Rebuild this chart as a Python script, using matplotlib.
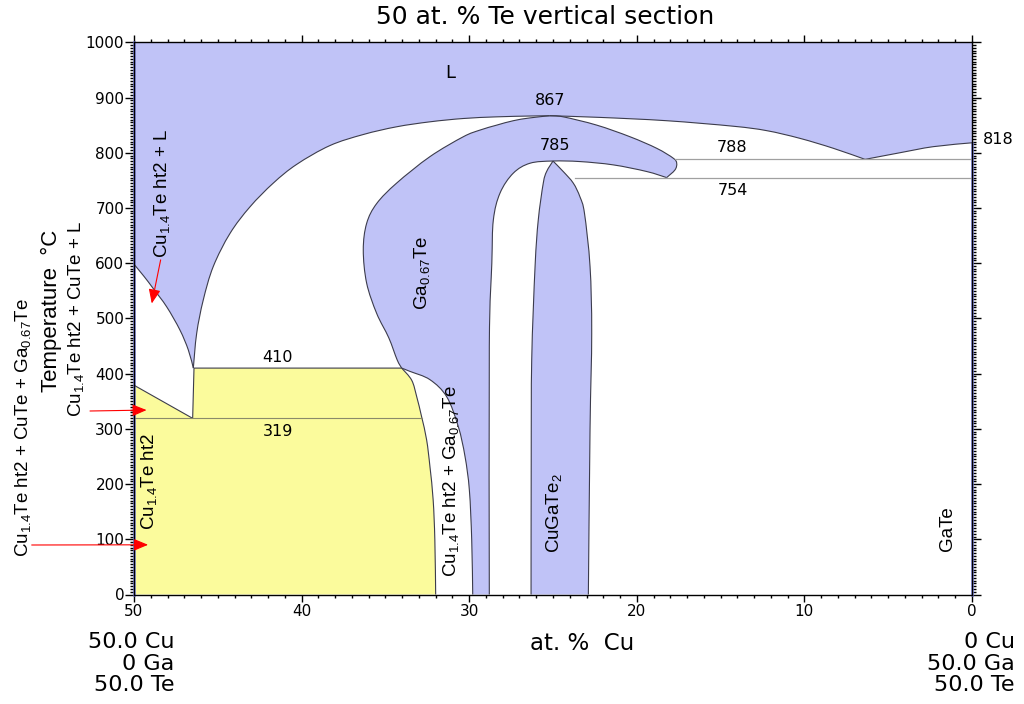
import matplotlib
matplotlib.use("Agg")
import matplotlib.pyplot as plt
from matplotlib.path import Path
from matplotlib.patches import PathPatch
from matplotlib.ticker import MultipleLocator

plt.rcParams["font.family"] = ["DejaVu Sans"]
plt.rcParams["mathtext.fontset"] = "custom"
plt.rcParams["mathtext.rm"] = "Liberation Sans"
plt.rcParams["mathtext.default"] = "regular"

# ---- invariant temperatures (°C) ----
t_liq_max = 867
t_dome_top = 785
t_eut_ga = 788
t_peri_ga = 754
t_gate_melt = 818
t_inv_upper = 410
t_inv_lower = 319
t_cu14_edge = 379

# ---- phase boundaries: composition (at.% Cu) and temperature (°C) ----
# liquidus from the Cu-rich edge down to the 410 °C point
liq_cu_x = [50.0, 49.4, 48.85, 48.05, 47.26, 46.76, 46.46]
liq_cu_t = [598, 576, 554, 521, 479, 443, t_inv_upper]

# liquidus rising from the 410 °C point to the congruent maximum
liq_mid_x = [46.46, 46.26, 45.87, 45.27, 44.27, 43.08, 41.69, 40.29, 38.31,
             36.32, 34.33, 32.34, 30.35, 28.36, 26.37, 25.2]
liq_mid_t = [t_inv_upper, 473, 533, 594, 654, 702, 745, 779, 813,
             833, 847, 856, 862, 865, 866.5, t_liq_max]

# liquidus from the maximum down to the eutectic, then up to GaTe
liq_ga_x = [25.2, 22.2, 18.22, 14.24, 12.25, 10.26, 8.27, 6.38]
liq_ga_t = [t_liq_max, 864, 858, 848, 840, 826, 808, t_eut_ga]
liq_gate_x = [6.38, 4.3, 2.31, 0.0]
liq_gate_t = [t_eut_ga, 800, 811, t_gate_melt]

# Ga0.67Te field, Cu-rich side below 410 °C
ga_low_x = [29.79, 29.85, 29.99, 30.25, 30.65, 31.34, 32.34, 33.53, 34.03]
ga_low_t = [0, 99, 189, 250, 304, 358, 389, 404, t_inv_upper]

# Ga0.67Te field, Cu-rich side above 410 °C
ga_up_x = [34.03, 34.3, 34.8, 35.52, 36.12, 36.32, 36.12, 35.52, 34.33,
           32.34, 30.35, 29.36, 28.36, 27.37, 26.4, 25.2]
ga_up_t = [t_inv_upper, 425, 465, 509, 564, 624, 672, 708, 745,
           793, 829, 841, 850, 858, 863, t_liq_max]

# upper edge of the Ga0.67Te arm reaching toward GaTe
arm_up_x = [25.2, 24.39, 22.39, 20.41, 18.81, 17.82, 17.62, 17.72, 18.22]
arm_up_t = [t_liq_max, 865, 850, 829, 808, 790, 781, 769, 755]

# lower edge of the arm and Ga-rich side of the Ga0.67Te field
arm_low_x = [18.22, 19.41, 21.4, 23.39, 25.0, 26.37, 27.37, 28.16, 28.56, 28.65, 28.8, 28.8]
arm_low_t = [755, 766, 778, 784, t_dome_top, 781, 763, 727, 678, 600, 450, 0]

# CuGaTe2 single-phase dome
dome_left_x = [26.31, 26.3, 26.27, 26.07, 25.88, 25.58, 25.38, 25.0]
dome_left_t = [0, 240, 425, 594, 678, 745, 766, t_dome_top]
dome_right_x = [25.0, 24.39, 23.79, 23.39, 23.12, 22.79, 22.69, 22.79, 22.89]
dome_right_t = [t_dome_top, 766, 745, 720, 690, 594, 473, 300, 0]

# Cu1.4Te ht2 field, Ga-rich boundary
cu14_right_x = [34.03, 33.43, 33.13, 32.84, 32.54, 32.34, 32.15, 32.05, 32.0]
cu14_right_t = [t_inv_upper, 388, 358, 322, 280, 231, 171, 99, 0]
cu14_corner_x = 46.5

# horizontal invariant lines (start composition, end composition)
inv_lower_x = [50.0, 32.82]
inv_ga_eut_x = [17.7, 0.0]
inv_ga_peri_x = [23.7, 0.0]

BLUE = "#C0C3F7"
YELLOW = "#FBFB9C"
EDGE = "#3c3c4c"
GRAY = "#a0a0a0"
BLUE_EDGE = "#7F86E8"
LAB_FONT = ["Liberation Sans", "DejaVu Sans"]


def curve(xs, ts):
    """Smooth cubic segments passing through every boundary point."""
    p = list(zip(xs, ts))
    n = len(p)
    verts, codes = [], []
    for i in range(n - 1):
        p0 = p[i - 1] if i > 0 else p[i]
        p1, p2 = p[i], p[i + 1]
        p3 = p[i + 2] if i + 2 < n else p[i + 1]
        c1 = (p1[0] + (p2[0] - p0[0]) / 6, p1[1] + (p2[1] - p0[1]) / 6)
        c2 = (p2[0] - (p3[0] - p1[0]) / 6, p2[1] - (p3[1] - p1[1]) / 6)
        verts += [c1, c2, p2]
        codes += [Path.CURVE4] * 3
    return verts, codes


def build_path(pieces, closed=False):
    verts = [(pieces[0][0][0], pieces[0][1][0])]
    codes = [Path.MOVETO]
    for xs, ts in pieces:
        v, c = curve(xs, ts)
        verts += v
        codes += c
    if closed:
        verts.append(verts[0])
        codes.append(Path.CLOSEPOLY)
    return Path(verts, codes)


W, H = 1024, 704
fig = plt.figure(figsize=(W / 100, H / 100), dpi=100)
ax = fig.add_axes([134 / W, 1 - 594.5 / H, (972 - 134) / W, (594.5 - 42.3) / H])
ax.set_xlim(50, 0)
ax.set_ylim(0, 1000)

# ---- filled fields ----
liq_field = build_path([([50.0, 50.0], [1000, liq_cu_t[0]]),
                        (liq_cu_x, liq_cu_t), (liq_mid_x, liq_mid_t),
                        (liq_ga_x, liq_ga_t), (liq_gate_x, liq_gate_t),
                        ([0.0, 0.0], [t_gate_melt, 1000])], closed=True)
ga_field = build_path([(ga_low_x, ga_low_t), (ga_up_x, ga_up_t),
                       (arm_up_x, arm_up_t), (arm_low_x, arm_low_t),
                       ([arm_low_x[-1], ga_low_x[0]], [0, 0])], closed=True)
dome_field = build_path([(dome_left_x, dome_left_t), (dome_right_x, dome_right_t),
                         ([dome_right_x[-1], dome_left_x[0]], [0, 0])], closed=True)
cu14_field = build_path([([50.0, 50.0], [0, t_cu14_edge]),
                         ([50.0, cu14_corner_x], [t_cu14_edge, t_inv_lower]),
                         ([cu14_corner_x, 46.42], [t_inv_lower, t_inv_upper]),
                         ([46.42, cu14_right_x[0]], [t_inv_upper, t_inv_upper]),
                         (cu14_right_x, cu14_right_t),
                         ([cu14_right_x[-1], 50.0], [0, 0])], closed=True)

for path, col in [(liq_field, BLUE), (ga_field, BLUE), (dome_field, BLUE),
                  (cu14_field, YELLOW)]:
    ax.add_patch(PathPatch(path, facecolor=col, edgecolor="none", zorder=1))

# ---- boundary lines ----
boundaries = [
    (liq_cu_x, liq_cu_t), (liq_mid_x, liq_mid_t), (liq_ga_x, liq_ga_t),
    (liq_gate_x, liq_gate_t), (ga_low_x, ga_low_t), (ga_up_x, ga_up_t),
    (arm_up_x, arm_up_t), (arm_low_x, arm_low_t),
    (dome_left_x, dome_left_t), (dome_right_x, dome_right_t),
    (cu14_right_x, cu14_right_t),
    ([50.0, cu14_corner_x], [t_cu14_edge, t_inv_lower]),
    ([cu14_corner_x, 46.42], [t_inv_lower, t_inv_upper]),
    ([46.42, cu14_right_x[0]], [t_inv_upper, t_inv_upper]),
]
for xs, ts in boundaries:
    ax.add_patch(PathPatch(build_path([(xs, ts)]), facecolor="none",
                           edgecolor=EDGE, lw=0.8, zorder=3))

ax.plot(inv_lower_x, [t_inv_lower] * 2, color="#8a8a6a", lw=0.8, zorder=3)
ax.plot(inv_ga_eut_x, [t_eut_ga] * 2, color=GRAY, lw=0.9, zorder=3)
ax.plot(inv_ga_peri_x, [t_peri_ga] * 2, color=GRAY, lw=0.9, zorder=3)

# pure-composition edges
ax.plot([50, 50], [0, 1000], color=BLUE_EDGE, lw=1.8, zorder=2, clip_on=False)
ax.plot([0, 0], [0, t_gate_melt], color=BLUE_EDGE, lw=1.8, zorder=2, clip_on=False)

# ---- axes & ticks ----
ax.xaxis.set_major_locator(MultipleLocator(10))
ax.xaxis.set_minor_locator(MultipleLocator(1))
ax.yaxis.set_major_locator(MultipleLocator(100))
ax.yaxis.set_minor_locator(MultipleLocator(5))
ax.tick_params(which="both", direction="out", top=True, right=True,
               labeltop=False, labelright=False, width=1.0, colors="black")
ax.tick_params(axis="x", which="major", length=5, pad=1.5, labelsize=11)
ax.tick_params(axis="x", which="minor", length=2.5)
ax.tick_params(axis="y", which="major", length=6.5, pad=0.5, labelsize=11)
ax.tick_params(axis="y", which="minor", length=3)
for sp in ax.spines.values():
    sp.set_linewidth(1.0)
    sp.set_zorder(4)

# ---- labels inside the plot ----
num = dict(ha="center", va="center", zorder=5, fontsize=11.5)
ax.text(31.15, 944, "L", ha="center", va="center", zorder=5, fontsize=13)
ax.text(25.18, 895, str(t_liq_max), **num)
ax.text(24.88, 814, str(t_dome_top), **num)
ax.text(14.32, 809, str(t_eut_ga), **num)
ax.text(14.26, 732, str(t_peri_ga), **num)
ax.text(41.41, 429, str(t_inv_upper), **num)
ax.text(41.41, 296, str(t_inv_lower), **num)

rot = dict(rotation=90, ha="center", va="center", zorder=5, fontsize=13.5,
           family=LAB_FONT)
ax.text(32.83, 583, r"Ga$_{0.67}$Te", **rot)
ax.text(49.1, 204, r"Cu$_{1.4}$Te ht2", **rot)
ax.text(31.09, 205, r"Cu$_{1.4}$Te ht2 + Ga$_{0.67}$Te", **rot)
ax.text(24.94, 148, r"CuGaTe$_{2}$", **rot)
ax.text(1.46, 120, "GaTe", **rot)
ax.text(48.3, 726, r"Cu$_{1.4}$Te ht2 + L", **rot)


def fx(px):
    return px / W


def fy(py):
    return 1 - py / H


fig.text(fx(998), fy(139), str(t_gate_melt), fontsize=11.5, ha="center", va="center")

# ---- labels left of the axis ----
fig.text(fx(23), fy(428), r"Cu$_{1.4}$Te ht2 + CuTe + Ga$_{0.67}$Te",
         rotation=90, fontsize=13.5, ha="center", va="center", family=LAB_FONT)
fig.text(fx(51), fy(311), "Temperature  °C", rotation=90, fontsize=16,
         ha="center", va="center", family=LAB_FONT)
fig.text(fx(76), fy(319), r"Cu$_{1.4}$Te ht2 + CuTe + L", rotation=90,
         fontsize=13.5, ha="center", va="center", family=LAB_FONT)

arrow = dict(arrowstyle="-|>,head_length=0.6,head_width=0.25", color="red",
             lw=0.8, mutation_scale=14.4, shrinkA=0, shrinkB=0)
ax.annotate("", xy=(49.16, 90), xytext=(31.7, H - 545), textcoords="figure pixels",
            arrowprops=arrow, zorder=6)
ax.annotate("", xy=(49.25, 334), xytext=(90, H - 411), textcoords="figure pixels",
            arrowprops=arrow, zorder=6)
ax.annotate("", xy=(48.94, 527), xytext=(48.41, 606), textcoords="data",
            arrowprops=arrow, zorder=6)

# ---- title and composition labels ----
fig.text(fx(545), fy(17), "50 at. % Te vertical section", fontsize=18,
         ha="center", va="center")
fig.text(fx(582), fy(643), "at. %  Cu", fontsize=16.5, ha="center", va="center")

left_comp = ["50.0 Cu", "0 Ga", "50.0 Te"]
right_comp = ["0 Cu", "50.0 Ga", "50.0 Te"]
for i, (lc, rc) in enumerate(zip(left_comp, right_comp)):
    y = fy(642 + 21.5 * i)
    fig.text(fx(174), y, lc, fontsize=16, ha="right", va="center")
    fig.text(fx(1015), y, rc, fontsize=16, ha="right", va="center")

fig.savefig("out.png", dpi=100)
